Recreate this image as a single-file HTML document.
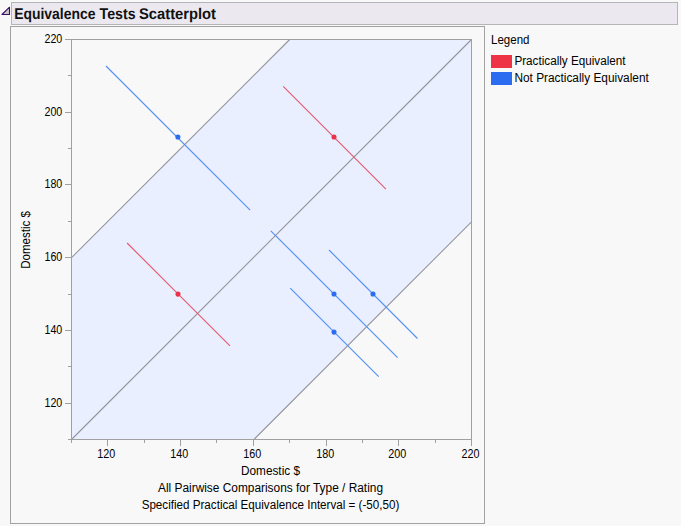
<!DOCTYPE html>
<html>
<head>
<meta charset="utf-8">
<title>Equivalence Tests Scatterplot</title>
<style>
html,body{margin:0;padding:0;}
body{width:681px;height:526px;background:#f8f8f8;overflow:hidden;position:relative;font-family:"Liberation Sans",sans-serif;color:#000;}
#titlebar{position:absolute;left:11px;top:2px;width:667px;height:23px;background:#ebe8f0;border:1px solid #b5b5b9;box-sizing:border-box;}
#box{position:absolute;left:10px;top:26px;width:475px;height:498px;border:1px solid #a2a2a2;box-sizing:border-box;background:#f8f8f8;}
#chart{position:absolute;left:0;top:0;}
svg text{font-family:"Liberation Sans",sans-serif;font-size:12px;fill:#000;}
svg text.ttl{font-size:15.5px;font-weight:bold;fill:#111;text-rendering:geometricPrecision;}
</style>
</head>
<body>
<div id="titlebar"></div>
<div id="box"></div>
<svg id="chart" width="681" height="526" viewBox="0 0 681 526">
  <polygon points="2,14.5 9.5,14.5 9.5,7.2" fill="#c8c8c8" stroke="#400c68" stroke-width="1.1" stroke-linejoin="round"/>
  <text class="ttl" x="14.2" y="18.9" textLength="81.3" lengthAdjust="spacingAndGlyphs">Equivalence</text>
  <text class="ttl" x="99.6" y="18.9" textLength="36" lengthAdjust="spacingAndGlyphs">Tests</text>
  <text class="ttl" x="139" y="18.9" textLength="77" lengthAdjust="spacingAndGlyphs">Scatterplot</text>
  <polygon points="71.5,257.68 289.68,39.5 471.5,39.5 471.5,221.87 253.87,439.5 71.5,439.5" fill="#e9efff"/>
  <g stroke="#94949c" stroke-width="1.08" fill="none">
    <line x1="71.5" y1="257.68" x2="289.68" y2="39.5"/>
    <line x1="71.5" y1="439.5" x2="471.5" y2="39.5"/>
    <line x1="253.32" y1="440.05" x2="471.5" y2="221.87"/>
  </g>
  <rect x="71.5" y="39.5" width="400" height="400" fill="none" stroke="#a0a0a0" stroke-width="1"/>
  <g stroke="#a0a0a0" stroke-width="1" shape-rendering="crispEdges">
    <line x1="65" y1="39.5" x2="71" y2="39.5"/>
    <line x1="68" y1="75.5" x2="71" y2="75.5"/>
    <line x1="65" y1="112.5" x2="71" y2="112.5"/>
    <line x1="68" y1="148.5" x2="71" y2="148.5"/>
    <line x1="65" y1="184.5" x2="71" y2="184.5"/>
    <line x1="68" y1="221.5" x2="71" y2="221.5"/>
    <line x1="65" y1="257.5" x2="71" y2="257.5"/>
    <line x1="68" y1="294.5" x2="71" y2="294.5"/>
    <line x1="65" y1="330.5" x2="71" y2="330.5"/>
    <line x1="68" y1="366.5" x2="71" y2="366.5"/>
    <line x1="65" y1="403.5" x2="71" y2="403.5"/>
    <line x1="68" y1="439.5" x2="71" y2="439.5"/>
    <line x1="71.5" y1="440" x2="71.5" y2="443"/>
    <line x1="107.5" y1="440" x2="107.5" y2="446"/>
    <line x1="144.5" y1="440" x2="144.5" y2="443"/>
    <line x1="180.5" y1="440" x2="180.5" y2="446"/>
    <line x1="216.5" y1="440" x2="216.5" y2="443"/>
    <line x1="253.5" y1="440" x2="253.5" y2="446"/>
    <line x1="289.5" y1="440" x2="289.5" y2="443"/>
    <line x1="326.5" y1="440" x2="326.5" y2="446"/>
    <line x1="362.5" y1="440" x2="362.5" y2="443"/>
    <line x1="398.5" y1="440" x2="398.5" y2="446"/>
    <line x1="435.5" y1="440" x2="435.5" y2="443"/>
    <line x1="471.5" y1="440" x2="471.5" y2="446"/>
  </g>
  <g text-anchor="end">
    <text x="62.3" y="42.5" textLength="17.8" lengthAdjust="spacingAndGlyphs">220</text>
    <text x="62.3" y="115.5" textLength="17.8" lengthAdjust="spacingAndGlyphs">200</text>
    <text x="62.3" y="187.5" textLength="17.8" lengthAdjust="spacingAndGlyphs">180</text>
    <text x="62.3" y="260.5" textLength="17.8" lengthAdjust="spacingAndGlyphs">160</text>
    <text x="62.3" y="333.5" textLength="17.8" lengthAdjust="spacingAndGlyphs">140</text>
    <text x="62.3" y="406.5" textLength="17.8" lengthAdjust="spacingAndGlyphs">120</text>
  </g>
  <g text-anchor="middle">
    <text x="106.2" y="458" textLength="18" lengthAdjust="spacingAndGlyphs">120</text>
    <text x="179.2" y="458" textLength="18" lengthAdjust="spacingAndGlyphs">140</text>
    <text x="252.2" y="458" textLength="18" lengthAdjust="spacingAndGlyphs">160</text>
    <text x="325.2" y="458" textLength="18" lengthAdjust="spacingAndGlyphs">180</text>
    <text x="397.2" y="458" textLength="18" lengthAdjust="spacingAndGlyphs">200</text>
    <text x="470.5" y="458" textLength="18" lengthAdjust="spacingAndGlyphs">220</text>
    <text x="270.5" y="475" textLength="59" lengthAdjust="spacingAndGlyphs">Domestic $</text>
    <text x="270.5" y="492" textLength="225" lengthAdjust="spacingAndGlyphs">All Pairwise Comparisons for Type / Rating</text>
    <text x="270.5" y="509" textLength="257.7" lengthAdjust="spacingAndGlyphs">Specified Practical Equivalence Interval = (-50,50)</text>
    <text transform="translate(30,240) rotate(-90)" textLength="57.7" lengthAdjust="spacingAndGlyphs">Domestic $</text>
  </g>
  <g stroke-width="1.15" fill="none">
    <line x1="106" y1="66" x2="250.1" y2="210.1" stroke="#5590f5"/>
    <line x1="283.2" y1="86.4" x2="385.9" y2="189.1" stroke="#e65a6e"/>
    <line x1="127.1" y1="243" x2="230" y2="345.9" stroke="#e65a6e"/>
    <line x1="270.8" y1="230.8" x2="397.6" y2="357.6" stroke="#5590f5"/>
    <line x1="329" y1="250" x2="417.5" y2="338.5" stroke="#5590f5"/>
    <line x1="290.2" y1="288.2" x2="378.7" y2="376.7" stroke="#5590f5"/>
  </g>
  <g>
    <circle cx="177.9" cy="137" r="2.55" fill="#2b6cf0"/>
    <circle cx="334" cy="137" r="2.55" fill="#e8334a"/>
    <circle cx="178" cy="294.1" r="2.55" fill="#e8334a"/>
    <circle cx="334" cy="294" r="2.55" fill="#2b6cf0"/>
    <circle cx="373" cy="294" r="2.55" fill="#2b6cf0"/>
    <circle cx="334" cy="332.1" r="2.55" fill="#2b6cf0"/>
  </g>
  <text x="491" y="44" textLength="38.5" lengthAdjust="spacingAndGlyphs">Legend</text>
  <rect x="491" y="55" width="21" height="13" fill="#ee3346"/>
  <text x="514.4" y="65" textLength="111.2" lengthAdjust="spacingAndGlyphs">Practically Equivalent</text>
  <rect x="491" y="72" width="21" height="13" fill="#2b6cf0"/>
  <text x="514.4" y="82" textLength="134.4" lengthAdjust="spacingAndGlyphs">Not Practically Equivalent</text>
</svg>
</body>
</html>
